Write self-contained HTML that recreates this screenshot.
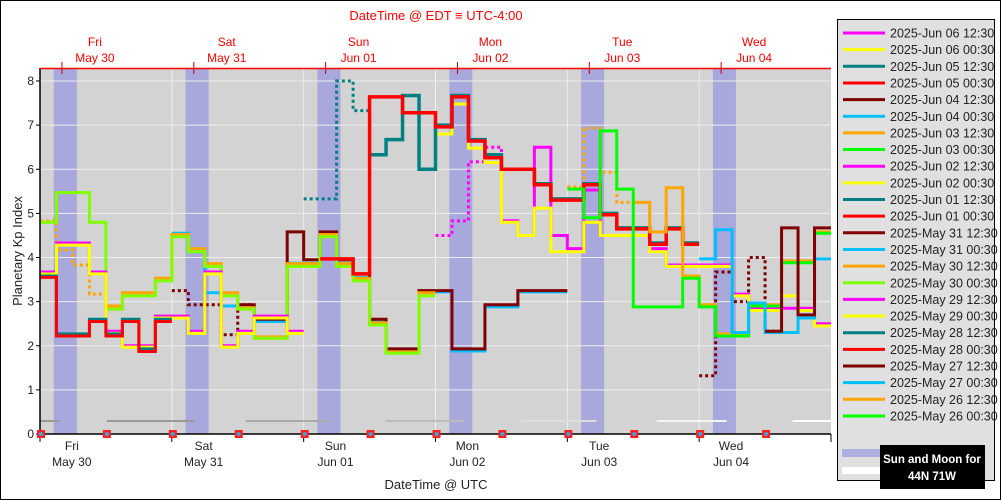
<!DOCTYPE html>
<html><head><meta charset="utf-8"><style>
html,body{margin:0;padding:0;background:#fff}
svg{display:block;font-family:"Liberation Sans","DejaVu Sans",sans-serif}
</style></head><body>
<svg id="chart" width="1001" height="500" viewBox="0 0 1001 500" xmlns="http://www.w3.org/2000/svg">
<rect x="0.5" y="0.5" width="1000" height="499" fill="#fff" stroke="#000"/>
<rect x="40" y="68" width="791" height="366" fill="#d3d3d3"/>
<g id="bands"></g>
<g id="grid"></g>
<g id="moon"></g>
<g id="series"></g>
<g id="axes"></g>
<text x="436" y="20" fill="#ff0000" font-size="13" text-anchor="middle">DateTime @ EDT ≡ UTC-4:00</text>
<text x="436" y="489" fill="#222" font-size="13" text-anchor="middle">DateTime @ UTC</text>
<text x="22" y="251" fill="#222" font-size="13" text-anchor="middle" transform="rotate(-90 22 251)">Planetary Kp Index</text>
<g id="legend">
<rect x="837.5" y="19.5" width="157" height="461" fill="#e0e0e0" stroke="#000"/>
<rect x="842" y="449" width="38" height="8" fill="#b0b0e0"/>
<rect x="842" y="467" width="38" height="7" fill="#fff"/>
<rect x="880" y="445" width="105" height="44" fill="#000"/>
<text x="932" y="463" fill="#fff" font-size="11.5" font-weight="bold" text-anchor="middle">Sun and Moon for</text>
<text x="932" y="480" fill="#fff" font-size="11.5" font-weight="bold" text-anchor="middle">44N 71W</text>
</g>
</svg>
<script>
// ---- data ----
const hoursPerDay = 24;
const stepHours = 3;
const yTicks = [0,1,2,3,4,5,6,7,8];
const utcDayNames = ["Fri","Sat","Sun","Mon","Tue","Wed"];
const utcDayDates = ["May 30","May 31","Jun 01","Jun 02","Jun 03","Jun 04"];
const nightStartHours = [2.5,26.5,50.5,74.5,98.5,122.5];
const nightLengthHours = 4.2;
const moonStartHours = [0,12.2,37.5,63,87.5,112.3,137];
const moonEndHours = [3.6,28.2,52.8,77.2,101.3,125,144];
const moonColors = ["#999","#999","#aaa","#bbb","#ddd","#f4f4f4","#fff"];
const markerHours = [0,12,24,36,48,60,72,84,96,108,120,132];
const legendLabels = ["2025-Jun 06 12:30","2025-Jun 06 00:30","2025-Jun 05 12:30","2025-Jun 05 00:30","2025-Jun 04 12:30","2025-Jun 04 00:30","2025-Jun 03 12:30","2025-Jun 03 00:30","2025-Jun 02 12:30","2025-Jun 02 00:30","2025-Jun 01 12:30","2025-Jun 01 00:30","2025-May 31 12:30","2025-May 31 00:30","2025-May 30 12:30","2025-May 30 00:30","2025-May 29 12:30","2025-May 29 00:30","2025-May 28 12:30","2025-May 28 00:30","2025-May 27 12:30","2025-May 27 00:30","2025-May 26 12:30","2025-May 26 00:30"];
const legendColors = ["#ff00ff","#ffff00","#008080","#ff0000","#800000","#00bfff","#ffa500","#00ff00","#ff00ff","#ffff00","#008080","#ff0000","#800000","#00bfff","#ffa500","#7fff00","#ff00ff","#ffff00","#008080","#ff0000","#800000","#00bfff","#ffa500","#00ff00"];

const kpOrangeMay30 = [2.9,3.2,3.2,3.53,4.52,4.2,3.86,3.2,2.86,2.2,2.2,3.86,3.86,4.52,3.86,3.53,2.52,1.86,1.86,3.2];
const kpLimeMay30 = [4.8,5.47,5.47,4.8,2.83,3.13,3.13,3.47,4.47,4.13,3.8,3.13,2.83,2.17,2.17,3.8,3.8,4.47,3.8,3.47,2.47,1.83,1.83,3.13];
const kpCyanMay31 = [4.55,4.2,3.2,2.9,2.9,2.55,2.55,3.87,3.87,4.55,3.87,3.55,2.55,1.9,1.9,3.22,3.22,1.88,1.88,2.88,2.88,3.22,3.22,3.22];
const kpMaroonMay31 = [2.93,2.6,2.6,4.58,3.95,4.58,3.95,3.63,2.6,1.93,1.93,3.25,3.25,1.93,1.93,2.93,2.93,3.25,3.25,3.25];
const kpMagentaMay29 = [3.67,4.33,4.33,3.67,2.33,2.0,2.0,2.67,2.67,2.33,3.67,2.0,2.33,2.67,2.67,2.33];
const kpYellowMay29 = [3.63,4.28,4.28,3.63,2.28,1.97,1.97,2.63,2.63,2.28,3.63,1.97,2.28,2.63,2.63,2.28];
const kpTealMay28 = [3.58,2.27,2.27,2.6,2.27,2.6,1.93,2.6];
const kpRedMay28 = [3.55,2.22,2.22,2.55,2.22,2.55,1.87,2.55];
const kpOrangeObs = [4.83,4.17,3.83,3.17];
const kpMaroonObsA = [3.25,2.93,2.93,2.25,2.93];
const kpTealObs = [5.33,5.33,8.0,7.33,6.33];
const kpTealJun05 = [6.33,6.67,7.67,6.0,7.0,7.67,6.67,6.33,6.0,6.0,5.67,5.33,5.33,5.67,5.0,4.67,4.67,4.33,4.67,4.33];
const kpRedJun05 = [3.97,3.97,3.63,7.64,7.64,7.28,7.28,6.96,7.64,6.64,6.26,6.0,6.0,5.65,5.3,5.3,5.65,4.97,4.65,4.65,4.3,4.65,4.3];
const kpMagentaObs = [4.5,4.83,6.17,6.5,4.83];
const kpMagentaJun02 = [4.83,4.5,6.5,4.5,4.2,5.53,4.5,4.5,4.5,4.2,3.83,3.83,3.83,3.83,3.17,2.85,2.85,2.85,2.85,2.5];
const kpYellowJun02 = [6.8,7.48,6.48,6.15,4.8,4.5,5.12,4.13,4.13,4.8,4.5,4.5,4.5,4.13,3.8,3.8,3.8,3.8,3.13,2.8,2.8,3.13,2.8,2.45];
const kpOrangeObsJun03 = [5.6,6.93,5.93,5.25];
const kpOrangeJun03 = [5.25,4.58,5.58,3.58,2.93,2.27,2.27,2.93,2.93,3.92,3.92,4.58];
const kpGreenJun03 = [5.55,4.9,6.87,5.55,2.88,2.88,2.88,3.53,2.88,2.22,2.22,2.9,2.9,3.88,3.88,4.55];
const kpCyanJun04 = [3.97,4.63,2.3,2.97,2.3,2.3,2.63,3.97];
const kpMaroonObsB = [1.32,3.67,3.0,4.0,2.33];
const kpMaroonJun04 = [2.33,4.67,2.7,4.67];

const seriesStartSteps = {orangeMay30:4,limeMay30:0,cyanMay31:8,maroonMay31:12,magentaMay29:0,yellowMay29:0,tealMay28:0,redMay28:0,orangeObs:0,maroonObsA:8,tealObs:16,tealJun05:20,redJun05:17,magentaObs:24,magentaJun02:28,yellowJun02:24,orangeObsJun03:32,orangeJun03:36,greenJun03:32,cyanJun04:40,maroonObsB:40,maroonJun04:44};

// ---- scales ----
const X0=40, X1=831, Y0=434, Y8=81, spanHours=144;
function xAt(h){return X0+(X1-X0)*h/spanHours;}
function yAt(kp){return Y0-(Y0-Y8)*kp/8;}
const NS="http://www.w3.org/2000/svg";
function mk(tag,attrs,parent){const e=document.createElementNS(NS,tag);for(const k in attrs)e.setAttribute(k,attrs[k]);parent.appendChild(e);return e;}

const bands=document.getElementById('bands');
nightStartHours.forEach((h)=>{
  const r=mk('rect',{x:xAt(h),y:68,width:xAt(h+nightLengthHours)-xAt(h),height:366,fill:'#a8a8dc'},bands);
  
  
});
const grid=document.getElementById('grid');
yTicks.slice(1).forEach(v=>{
  const l=mk('line',{x1:X0,x2:X1,y1:yAt(v),y2:yAt(v),stroke:'#eeeeee','stroke-width':1},grid);
  
  
});
for(let d=1;d<6;d++){
  const l=mk('line',{x1:xAt(d*hoursPerDay),x2:xAt(d*hoursPerDay),y1:68,y2:434,stroke:'#eeeeee','stroke-width':1},grid);
  
  
}
const moon=document.getElementById('moon');
moonStartHours.forEach((h,i)=>{
  const l=mk('line',{x1:xAt(h),x2:xAt(moonEndHours[i]),y1:421,y2:421,stroke:moonColors[i],'stroke-width':2},moon);
  
  
});

const sg=document.getElementById('series');
function drawStep(vals,startStep,color,width,dotted,name){
  let d='';
  vals.forEach((v,i)=>{
    const xa=xAt((startStep+i)*stepHours), xb=xAt((startStep+i+1)*stepHours), y=yAt(v);
    d+= (i===0?('M'+xa+' '+y):('V'+y))+'H'+xb;
  });
  const p=mk('path',{d:d,fill:'none',stroke:color,'stroke-width':width},sg);
  if(dotted){p.setAttribute('stroke-dasharray','3 3');}
  
  
}
const S=seriesStartSteps;
drawStep(kpOrangeObs,S.orangeObs,'#ffa500',3,true,'series-observed-may26');
drawStep(kpMaroonObsA,S.maroonObsA,'#800000',3,true,'series-observed-may31');
drawStep(kpTealObs,S.tealObs,'#008080',3,true,'series-observed-jun01');
drawStep(kpMagentaObs,S.magentaObs,'#ff00ff',3,true,'series-observed-jun02');
drawStep(kpOrangeObsJun03,S.orangeObsJun03,'#ffa500',3,true,'series-observed-jun03');
drawStep(kpMaroonObsB,S.maroonObsB,'#800000',3,true,'series-observed-jun04');
drawStep(kpCyanMay31,S.cyanMay31,'#00bfff',3,false,'series-may31-0030');
drawStep(kpMaroonMay31,S.maroonMay31,'#800000',3,false,'series-may31-1230');
drawStep(kpOrangeMay30,S.orangeMay30,'#ffa500',3,false,'series-may30-1230');
drawStep(kpLimeMay30,S.limeMay30,'#7fff00',3,false,'series-may30-0030');
drawStep(kpMagentaMay29,S.magentaMay29,'#ff00ff',3,false,'series-may29-1230');
drawStep(kpYellowMay29,S.yellowMay29,'#ffff00',3,false,'series-may29-0030');
drawStep(kpTealMay28,S.tealMay28,'#008080',3,false,'series-may28-1230');
drawStep(kpRedMay28,S.redMay28,'#ff0000',3,false,'series-may28-0030');
drawStep(kpMagentaJun02,S.magentaJun02,'#ff00ff',3,false,'series-jun02-1230');
drawStep(kpYellowJun02,S.yellowJun02,'#ffff00',3,false,'series-jun02-0030');
drawStep(kpTealJun05,S.tealJun05,'#008080',3.5,false,'series-jun05-1230');
drawStep(kpRedJun05,S.redJun05,'#ff0000',3.5,false,'series-jun05-0030');
drawStep(kpOrangeJun03,S.orangeJun03,'#ffa500',3,false,'series-jun03-1230');
drawStep(kpGreenJun03,S.greenJun03,'#00ff00',3,false,'series-jun03-0030');
drawStep(kpCyanJun04,S.cyanJun04,'#00bfff',3,false,'series-jun04-0030');
drawStep(kpMaroonJun04,S.maroonJun04,'#800000',3,false,'series-jun04-1230');

// axes
const ax=document.getElementById('axes');
let e;
e=mk('line',{x1:X0,x2:X0,y1:68,y2:434,stroke:'#000','stroke-width':1.5},ax);


e=mk('line',{x1:X0,x2:X1,y1:434,y2:434,stroke:'#000','stroke-width':1.5},ax);


e=mk('line',{x1:X0,x2:X1,y1:68.5,y2:68.5,stroke:'#ff0000','stroke-width':1.5},ax);


yTicks.forEach(v=>{
  const t=mk('line',{x1:X0-4,x2:X0,y1:yAt(v),y2:yAt(v),stroke:'#000'},ax);
  
  
  const l=mk('text',{x:X0-6,y:yAt(v)+4,'font-size':12,'text-anchor':'end',fill:'#222'},ax);
  l.textContent=v;
  
  
});
for(let d=0;d<=6;d++){
  const t=mk('line',{x1:xAt(d*hoursPerDay),x2:xAt(d*hoursPerDay),y1:434,y2:442,stroke:'#000'},ax);
  
  
}
utcDayNames.forEach((n,i)=>{
  const cx=xAt(i*hoursPerDay+5.8);
  const a=mk('text',{x:cx,y:450,'font-size':12,'text-anchor':'middle',fill:'#222'},ax);
  a.textContent=n;
  
  
  const b=mk('text',{x:cx,y:466,'font-size':12,'text-anchor':'middle',fill:'#222'},ax);
  b.textContent=utcDayDates[i];
  
  
  const tt=mk('line',{x1:xAt(i*hoursPerDay+4),x2:xAt(i*hoursPerDay+4),y1:62,y2:74,stroke:'#c00000'},ax);
  
  
  const tx=xAt(i*hoursPerDay+10);
  const c=mk('text',{x:tx,y:46,'font-size':12,'text-anchor':'middle',fill:'#ff0000'},ax);
  c.textContent=n;
  
  
  const dd=mk('text',{x:tx,y:62,'font-size':12,'text-anchor':'middle',fill:'#ff0000'},ax);
  dd.textContent=utcDayDates[i];
  
  
});
markerHours.forEach(h=>{
  const m=mk('rect',{x:xAt(h)-4+1,y:430,width:8,height:8,fill:'#ff2020'},ax);
  
  
  const c=mk('circle',{cx:xAt(h)+1,cy:434,r:2,fill:'#40a0e0'},ax);
  
  
});
// legend
const lg=document.getElementById('legend');
legendLabels.forEach((lab,i)=>{
  const y=33+i*16.65;
  const l=mk('line',{x1:843,x2:885,y1:y,y2:y,stroke:legendColors[i],'stroke-width':3},lg);
  
  
  const t=mk('text',{x:890,y:y+4.5,'font-size':12.5,fill:'#222'},lg);
  t.textContent=lab;
  
  
});
</script>
</body></html>
